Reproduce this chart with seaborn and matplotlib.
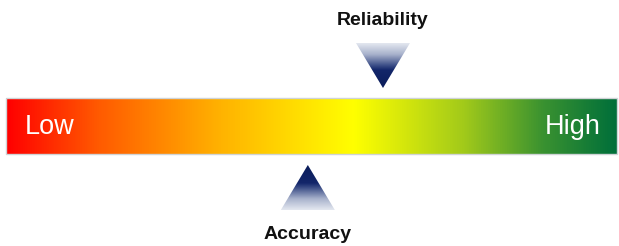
import numpy as np
import matplotlib
matplotlib.use('Agg')
import matplotlib.pyplot as plt
from matplotlib.colors import LinearSegmentedColormap
from matplotlib.patches import Polygon, Rectangle
import seaborn as sns

# scale ends and gradient stops (fraction along the bar)
scale_labels = ['Low', 'High']
bar_stops = [0.0, 0.15, 0.35, 0.57, 0.75, 0.88, 1.0]
bar_colors = ['#ff0000', '#ff5a00', '#ffb200', '#ffff00', '#a2ca1a', '#3a9230', '#006f3a']

# indicator markers: name, position on the scale, side of the bar
marker_names = ['Reliability', 'Accuracy']
marker_values = [0.617, 0.494]
marker_sides = ['top', 'bottom']

sns.set_theme(style='white')
plt.rcParams['font.family'] = ['Liberation Sans', 'DejaVu Sans']

W, H = 619, 246
fig = plt.figure(figsize=(W / 100, H / 100), dpi=100)
ax = fig.add_axes([0, 0, 1, 1])

# bar geometry in pixels; x is mapped so that 0..1 spans the bar
bar_left, bar_right = 6, 617
bar_top, bar_bottom = 98, 154
span = bar_right - bar_left
ax.set_xlim(-bar_left / span, (W - bar_left) / span)
ax.set_ylim(H, 0)
ax.axis('off')

bar_cmap = LinearSegmentedColormap.from_list('scale', list(zip(bar_stops, bar_colors)))
grad = np.linspace(0, 1, 512)[None, :]
ax.imshow(grad, cmap=bar_cmap, aspect='auto', extent=(0, 1, bar_bottom, bar_top),
          interpolation='bilinear', zorder=1)
ax.add_patch(Rectangle((0, bar_top), 1, bar_bottom - bar_top, fill=False,
                       edgecolor='#cfd3d6', lw=1.0, zorder=2))

mid_y = (bar_top + bar_bottom) / 2 + 1
ax.text(44 / span, mid_y, scale_labels[0], color='white', fontsize=19.5,
        ha='center', va='center', zorder=3)
ax.text((573 - bar_left) / span, mid_y, scale_labels[1], color='white', fontsize=19.5,
        ha='center', va='center', zorder=3)

# triangle pointers with a dark-to-light gradient
tri_cmap = LinearSegmentedColormap.from_list(
    'tri', [(0.0, '#e4e8f0'), (0.25, '#a8b2cc'), (0.5, '#3a4c86'), (0.6, '#13266a'), (1.0, '#0a1c5a')])
half_w = 27 / span
tri_h = 45
for name, val, side in zip(marker_names, marker_values, marker_sides):
    if side == 'top':
        apex_y = bar_top - 10
        base_y = apex_y - tri_h
        label_y = 25
    else:
        apex_y = bar_bottom + 11
        base_y = apex_y + tri_h
        label_y = 239
    poly = Polygon([(val - half_w, base_y), (val + half_w, base_y), (val, apex_y)],
                   closed=True, facecolor='none', edgecolor='none')
    ax.add_patch(poly)
    vals = np.linspace(1, 0, 256)[:, None]
    im = ax.imshow(vals, cmap=tri_cmap, aspect='auto',
                   extent=(val - half_w, val + half_w, base_y, apex_y),
                   origin='upper', interpolation='bilinear', zorder=2)
    im.set_clip_path(poly)
    ax.text(val, label_y, name, fontsize=14, fontweight='bold', color='#111111',
            ha='center', va='baseline')

fig.savefig('out.png', dpi=100)
